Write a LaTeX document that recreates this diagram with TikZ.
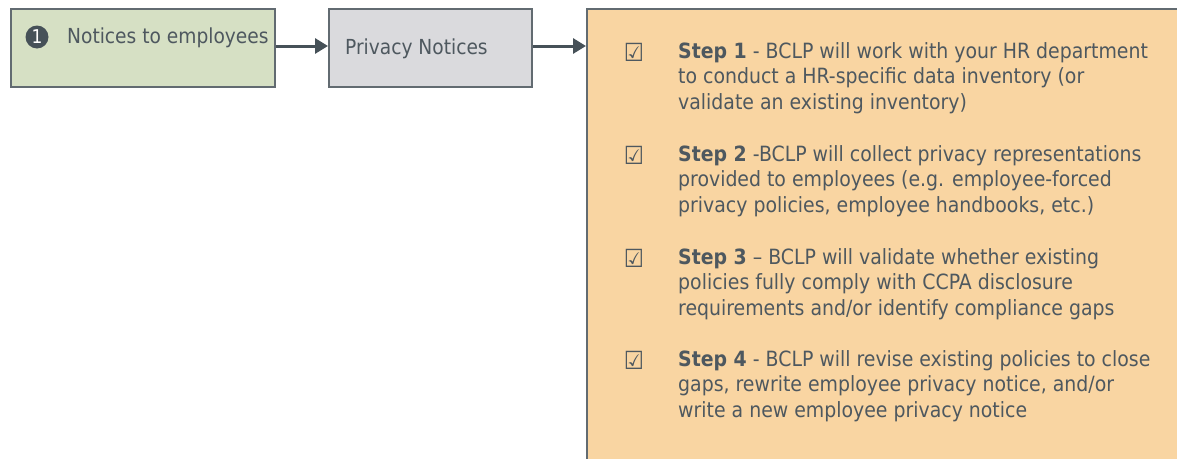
\documentclass[tikz,border=0pt]{standalone}
\usepackage{fontspec}
\setmainfont{DejaVu Sans Condensed}
\usetikzlibrary{arrows.meta,positioning}
\definecolor{notegreen}{RGB}{214,224,196}
\definecolor{notegray}{RGB}{218,218,221}
\definecolor{noteorange}{RGB}{249,213,162}
\definecolor{slate}{RGB}{70,81,88}
\definecolor{slatetext}{RGB}{78,88,95}
\tikzset{
  stagebox/.style={draw=slate!85, line width=1.6pt, inner sep=0pt, anchor=north west},
  flow/.style={draw=slate, line width=3pt, -{Triangle[length=13pt,width=15pt]}},
  steptext/.style={anchor=north west, align=left, inner sep=0pt, text=slatetext,
    font=\fontsize{21}{25.8}\selectfont},
  tick/.style={text=slatetext, inner sep=0pt, font=\fontsize{25}{25}\selectfont}
}
\begin{document}
\begin{tikzpicture}[x=1pt,y=-1pt]
  %%%%% START %%%%%
  \useasboundingbox (0,0) rectangle (1177,458);
  \clip (0,0) rectangle (1177,458);

  \node[stagebox, fill=notegreen, minimum width=264pt, minimum height=78pt] (notices) at (10,8) {};
  \node[stagebox, fill=notegray, minimum width=203pt, minimum height=78pt] (privacy) at (328,8) {};
  \node[stagebox, fill=noteorange, minimum width=620pt, minimum height=480pt] (steps) at (586,8) {};

  \node[circle, fill=slate, minimum size=23pt, inner sep=0pt, text=white,
    font=\fontsize{19}{19}\selectfont] (num) at (37,37) {1};
  \node[anchor=west, inner sep=0pt, text=slatetext, font=\fontsize{20.7}{21}\selectfont]
    (noticeslbl) at (67,38) {Notices to employees};
  \node[anchor=west, inner sep=0pt, text=slatetext, font=\fontsize{20.7}{21}\selectfont]
    (privacylbl) at (345,49) {Privacy Notices};

  \draw[flow] (notices.east |- 0,46) -- (privacy.west |- 0,46);
  \draw[flow] (privacy.east |- 0,46) -- (steps.west |- 0,46);

  % steps
  \node[tick] (tick1) at (634,52) {☑};
  \node[steptext] (step1) at (678,42) {\textbf{Step 1} - BCLP will work with your HR department\\
    to conduct a HR-specific data inventory (or\\validate an existing inventory)};
  \node[tick] (tick2) at (634,155) {☑};
  \node[steptext] (step2) at (678,145) {\textbf{Step 2} -BCLP will collect privacy representations\\
    provided to employees (e.g. employee-forced\\privacy policies, employee handbooks, etc.)};
  \node[tick] (tick3) at (634,258) {☑};
  \node[steptext] (step3) at (678,248) {\textbf{Step 3} -- BCLP will validate whether existing\\
    policies fully comply with CCPA disclosure\\requirements and/or identify compliance gaps};
  \node[tick] (tick4) at (634,360) {☑};
  \node[steptext] (step4) at (678,350) {\textbf{Step 4} - BCLP will revise existing policies to close\\
    gaps, rewrite employee privacy notice, and/or\\write a new employee privacy notice};
  %%%%% END %%%%%
\end{tikzpicture}
\end{document}
